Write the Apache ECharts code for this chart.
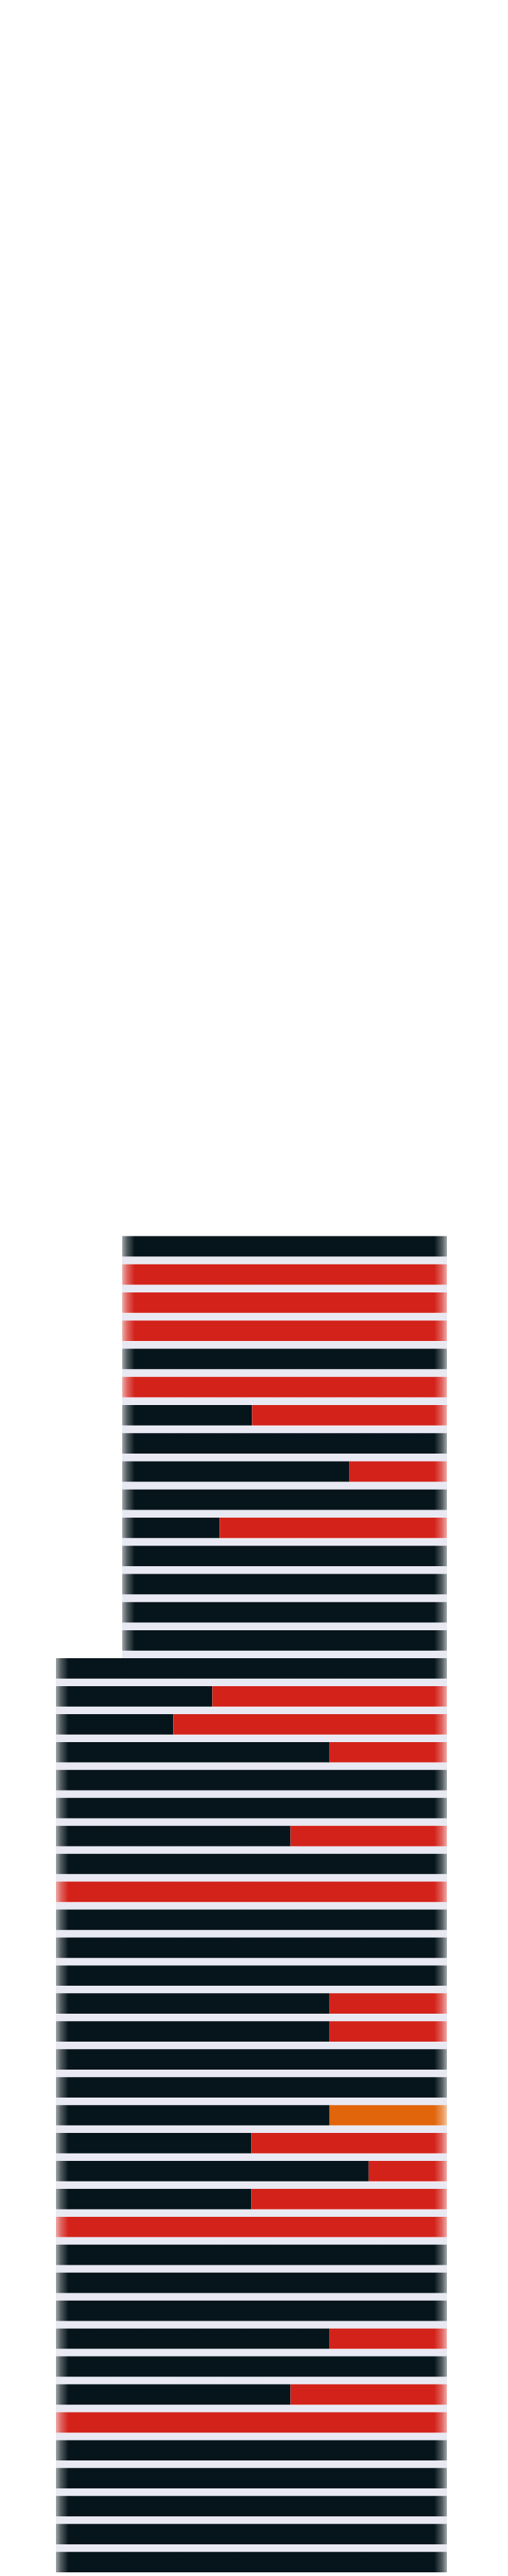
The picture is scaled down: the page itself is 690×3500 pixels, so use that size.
<!DOCTYPE html>
<html>
<head>
<meta charset="utf-8">
<script src="https://cdn.jsdelivr.net/npm/echarts@6/dist/echarts.min.js"></script>
<style>
html,body{margin:0;padding:0;background:#ffffff;}
#chart{width:690px;height:3500px;}
</style>
</head>
<body>
<div id="chart"></div>
<script>
// ---- data (shares in %, each row sums to 100) ----
const upperCategories = ['1','2','3','4','5','6','7','8','9','10','11','12','13','14','15'];
const upperBlack  = [100,0,0,0,100,0,40,100,70,100,30,100,100,100,100];
const upperRed    = [0,100,100,100,0,100,60,0,30,0,70,0,0,0,0];
const upperOrange = [0,0,0,0,0,0,0,0,0,0,0,0,0,0,0];

const lowerCategories = ['16','17','18','19','20','21','22','23','24','25','26','27','28','29','30','31','32',
                         '33','34','35','36','37','38','39','40','41','42','43','44','45','46','47','48'];
const lowerBlack  = [100,40,30,70,100,100,60,100,0,100,100,100,70,70,100,100,70,50,80,50,0,100,100,100,70,100,60,0,100,100,100,100,100];
const lowerRed    = [0,60,70,30,0,0,40,0,100,0,0,0,30,30,0,0,0,50,20,50,100,0,0,0,30,0,40,100,0,0,0,0,0];
const lowerOrange = [0,0,0,0,0,0,0,0,0,0,0,0,0,0,0,0,30,0,0,0,0,0,0,0,0,0,0,0,0,0,0,0,0];

// ---- styling ----
const COLORS = {black:[6,21,27], red:[211,34,26], orange:[225,101,11]};
const LAVENDER = '#e9e9f3';
const ROW = 38.25, BAR = 27.7, FADE = 17;
const GRID_RIGHT = 83;
const TOP1 = 1674.2;
const LEFT1 = 166, LEFT2 = 76;
const W = 690;

function mix(c, t){ // t = amount of white
  return 'rgb(' + c.map(v => Math.round(v + (255 - v) * t)).join(',') + ')';
}
function segStyle(c, v, start, gridW){
  const solid = mix(c, 0);
  if (!v) return {color: solid};
  const wpx = v / 100 * gridW;
  const left = start === 0, right = start + v >= 100;
  if (!left && !right) return {color: solid};
  const f = Math.min(FADE / wpx, 0.5);
  const stops = [];
  if (left){
    stops.push({offset:0, color:mix(c,0.62)});
    stops.push({offset:f*0.4, color:mix(c,0.3)});
    stops.push({offset:f, color:solid});
  } else stops.push({offset:0, color:solid});
  if (right){
    stops.push({offset:1-f, color:solid});
    stops.push({offset:1-f*0.4, color:mix(c,0.3)});
    stops.push({offset:1, color:mix(c,0.62)});
  } else stops.push({offset:1, color:solid});
  return {color:{type:'linear', x:0, y:0, x2:1, y2:0, colorStops:stops}};
}
function buildData(vals, starts, c, gridW){
  return vals.map((v,i) => ({value:v, itemStyle:segStyle(c, v, starts[i], gridW)}));
}
function makeSeries(gridIdx, black, red, orange, leftPx){
  const gridW = W - leftPx - GRID_RIGHT;
  const zero = black.map(() => 0);
  const s2 = black.slice();
  const s3 = black.map((b,i) => b + red[i]);
  const common = {type:'bar', stack:'s'+gridIdx, xAxisIndex:gridIdx, yAxisIndex:gridIdx,
                  barWidth:BAR, silent:true};
  return [
    Object.assign({name:'black'+gridIdx, data:buildData(black, zero, COLORS.black, gridW)}, common),
    Object.assign({name:'red'+gridIdx, data:buildData(red, s2, COLORS.red, gridW)}, common),
    Object.assign({name:'orange'+gridIdx, data:buildData(orange, s3, COLORS.orange, gridW)}, common)
  ];
}

function catAxis(idx, data, showMax){
  return {type:'category', gridIndex:idx, data:data, inverse:true,
          axisLine:{show:false}, axisTick:{show:false}, axisLabel:{show:false},
          splitLine:{show:true, showMinLine:false, showMaxLine:showMax,
                     lineStyle:{color:LAVENDER, width:ROW - BAR, type:'solid'}}};
}

const chart = echarts.init(document.getElementById('chart'), null, {renderer:'canvas'});
const top2 = TOP1 + upperCategories.length * ROW;
const h2 = lowerCategories.length * ROW;
chart.setOption({
  animation:false,
  backgroundColor:'#ffffff',
  grid:[
    {left:LEFT1, right:GRID_RIGHT, top:TOP1, height:upperCategories.length*ROW, show:false, containLabel:false},
    {left:LEFT2, right:GRID_RIGHT, top:top2, height:h2, show:false, containLabel:false}
  ],
  xAxis:[
    {type:'value', gridIndex:0, min:0, max:100, show:false},
    {type:'value', gridIndex:1, min:0, max:100, show:false}
  ],
  yAxis:[
    catAxis(0, upperCategories, true),
    catAxis(1, lowerCategories, false)
  ],
  series:[].concat(
    makeSeries(0, upperBlack, upperRed, upperOrange, LEFT1),
    makeSeries(1, lowerBlack, lowerRed, lowerOrange, LEFT2)
  )
});
</script>
</body>
</html>
